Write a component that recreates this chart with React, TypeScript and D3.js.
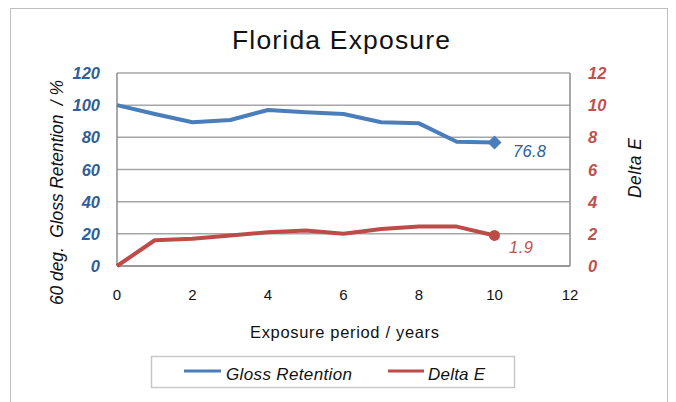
import React from "react";
import * as d3 from "d3";

const years = [0, 1, 2, 3, 4, 5, 6, 7, 8, 9, 10];
const glossRetention = [100, 94.5, 89.4, 90.8, 97, 95.6, 94.5, 89.4, 88.7, 77.3, 76.8];
const deltaE = [0, 1.6, 1.7, 1.9, 2.1, 2.2, 2.0, 2.3, 2.45, 2.45, 1.9];
const xTicks = [0, 2, 4, 6, 8, 10, 12];
const leftTicks = [0, 20, 40, 60, 80, 100, 120];
const rightTicks = [0, 2, 4, 6, 8, 10, 12];

const BLUE = "#4A7EBB";
const RED = "#BE4B48";
const BLUE_T = "#2F5E98";
const RED_T = "#C0504D";
const FONT = "'Liberation Sans', Arial, sans-serif";

export default function App() {
  const W = 676, H = 402;
  const x = d3.scaleLinear().domain([0, 12]).range([117, 570]);
  const yL = d3.scaleLinear().domain([0, 120]).range([266, 73]);
  const yR = d3.scaleLinear().domain([0, 12]).range([266, 73]);
  const glossLine = d3.line<number>().x((_, i) => x(years[i])).y((d) => yL(d));
  const deLine = d3.line<number>().x((_, i) => x(years[i])).y((d) => yR(d));
  const last = years.length - 1;
  const gx = x(years[last]), gy = yL(glossRetention[last]);
  const dx = x(years[last]), dy = yR(deltaE[last]);
  return (
    <svg width={W} height={H} style={{ position: "absolute", left: 0, top: 0 }} fontFamily={FONT}>
      <rect x={0} y={0} width={W} height={H} fill="#fff" />
      <rect x={10.5} y={8.5} width={657} height={420} fill="#fff" stroke="#BFBFBF" strokeWidth={1} />
      <text x={232} y={49} fontSize={26.5} fill="#111" textLength={218} lengthAdjust="spacing">Florida Exposure</text>
      {leftTicks.map((t) => (
        <line key={t} x1={x(0)} x2={x(12)} y1={yL(t)} y2={yL(t)} stroke="#A6A6A6" strokeWidth={1.5} />
      ))}
      <line x1={x(0)} x2={x(0)} y1={yL(0)} y2={yL(120)} stroke="#8C8C8C" strokeWidth={1.5} />
      <line x1={x(12)} x2={x(12)} y1={yL(0)} y2={yL(120)} stroke="#8C8C8C" strokeWidth={1.5} />
      <line x1={x(0)} x2={x(12)} y1={yL(0)} y2={yL(0)} stroke="#8C8C8C" strokeWidth={1.5} />
      {leftTicks.map((t) => (
        <text key={t} x={100} y={yL(t) + 6} textAnchor="end" fontSize={16.5} fontWeight="bold" fontStyle="italic" fill={BLUE_T}>{t}</text>
      ))}
      {rightTicks.map((t) => (
        <text key={t} x={588} y={yR(t) + 6} textAnchor="start" fontSize={16.5} fontWeight="bold" fontStyle="italic" fill={RED_T}>{t}</text>
      ))}
      {xTicks.map((t) => (
        <text key={t} x={x(t)} y={300} textAnchor="middle" fontSize={15} fill="#111">{t}</text>
      ))}
      <text x={250} y={338} fontSize={16.5} fill="#111" textLength={189} lengthAdjust="spacing">Exposure period / years</text>
      <text transform={`translate(63,305) rotate(-90)`} fontSize={17.5} fontStyle="italic" fill="#111" textLength={225} lengthAdjust="spacing" style={{ whiteSpace: "pre" }}>{"60 deg.  Gloss Retention  / %"}</text>
      <text transform={`translate(641,198) rotate(-90)`} fontSize={17.5} fontStyle="italic" fill="#111" textLength={60} lengthAdjust="spacing">Delta E</text>
      <path d={glossLine(glossRetention) || ""} fill="none" stroke={BLUE} strokeWidth={4} strokeLinejoin="round" />
      <path d={deLine(deltaE) || ""} fill="none" stroke={RED} strokeWidth={4} strokeLinejoin="round" />
      <path d={`M${gx - 7},${gy} L${gx},${gy - 7} L${gx + 7},${gy} L${gx},${gy + 7} Z`} fill={BLUE} />
      <circle cx={dx} cy={dy} r={5.5} fill={RED} />
      <text x={513} y={gy + 14.5} fontSize={16.5} fontStyle="italic" fill={BLUE_T} textLength={33} lengthAdjust="spacing">{glossRetention[last].toFixed(1)}</text>
      <text x={509} y={dy + 17.5} fontSize={16.5} fontStyle="italic" fill={RED_T} textLength={24} lengthAdjust="spacing">{deltaE[last].toFixed(1)}</text>
      <rect x={151.5} y={356.5} width={363} height={31} fill="#fff" stroke="#C8C8C8" strokeWidth={1.5} />
      <line x1={184} x2={221} y1={371} y2={371} stroke={BLUE} strokeWidth={3} />
      <text x={226} y={380} fontSize={17} fontStyle="italic" fill="#111" textLength={126} lengthAdjust="spacing">Gloss Retention</text>
      <line x1={388} x2={424} y1={371} y2={371} stroke={RED} strokeWidth={3} />
      <text x={428} y={380} fontSize={17} fontStyle="italic" fill="#111" textLength={57} lengthAdjust="spacing">Delta E</text>
    </svg>
  );
}
